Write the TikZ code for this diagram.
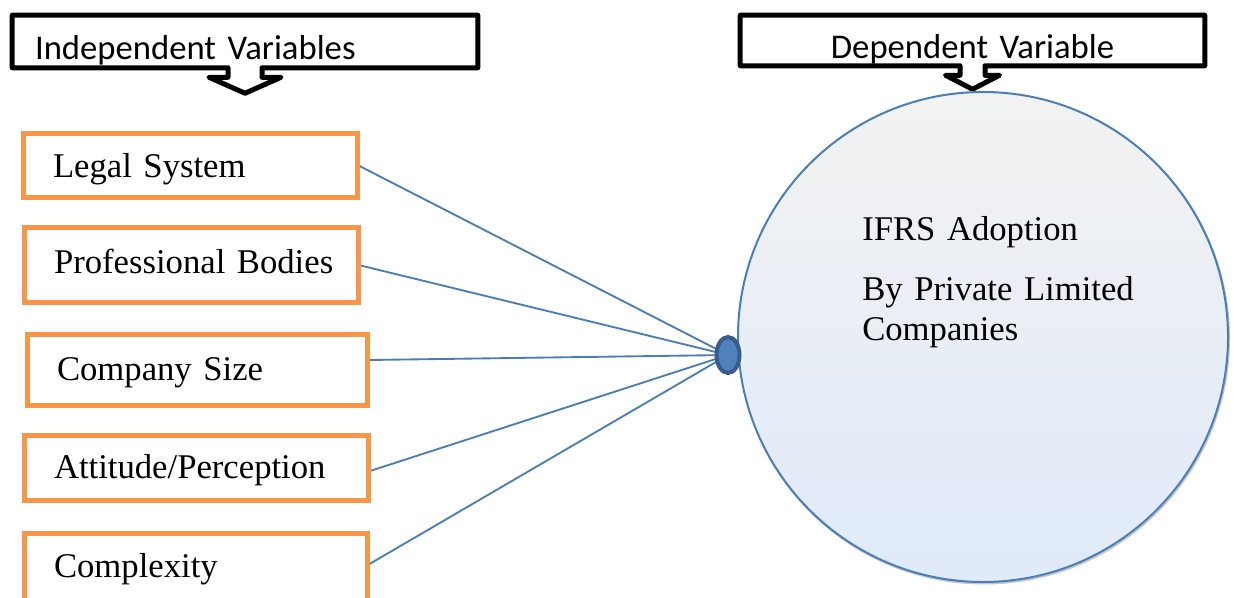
\documentclass[tikz,border=0pt]{standalone}
\usepackage{fontspec}
\setmainfont{Liberation Serif}
\newfontfamily\calibri{Carlito}
\usetikzlibrary{shapes.geometric, backgrounds, positioning}
\definecolor{boxorange}{HTML}{F79646}
\definecolor{linkblue}{HTML}{4A7EBB}
\definecolor{hubfill}{HTML}{4F81BD}
\definecolor{hubline}{HTML}{385D8A}
\definecolor{circtop}{HTML}{F2F2F2}
\definecolor{circbottom}{HTML}{E0EAF9}
\tikzset{factor/.style = {rectangle, draw = boxorange, line width = 3.75pt,
                          inner xsep = 0pt, inner ysep = 0pt, align = left,
                          text height = 22pt, text depth = 5pt,
                          execute at begin node = \hspace*{22.5pt},
                          font = \fontsize{26}{30}\selectfont},
         header/.style = {rectangle, inner xsep = 0pt, inner ysep = 0pt,
                          text height = 31.5pt, text depth = 3.8pt,
                          font = \calibri\fontsize{26}{30}\selectfont},
         callout/.style = {draw, line width = 3.75pt, line join = round},
         link/.style = {draw = linkblue, line width = 1.4pt}}

\begin{document}
\begin{tikzpicture}[x = 0.75pt, y = -0.75pt]
        \clip (0,0) rectangle (1234,598);

        % headers
        \node[header, text width = 348.75pt, minimum height = 39pt, align = left,
              execute at begin node = \hspace*{16.9pt}]
                                        (indep) at (245,41.5)   {Independent Variables};
        \node[header, text width = 348pt, minimum height = 37.5pt, align = center]
                                        (dep)   at (972.5,40.5) {Dependent Variable};

        \draw[callout] ([xshift = -12.75pt]indep.south) -- (indep.south west) -- (indep.north west)
              -- (indep.north east) -- (indep.south east) -- ([xshift = 12.75pt]indep.south)
              -- ++(0,9.5) -- ++(19,0) -- ++(-36,16) -- ++(-36,-16) -- ++(19,0) -- cycle;
        \draw[callout] ([xshift = -9.375pt]dep.south) -- (dep.south west) -- (dep.north west)
              -- (dep.north east) -- (dep.south east) -- ([xshift = 9.375pt]dep.south)
              -- ++(0,9.5) -- ++(14.5,0) -- ++(-27,14) -- ++(-27,-14) -- ++(14.5,0) -- cycle;

        % independent variables
        \node[factor, text width = 250.5pt, minimum height = 48pt]    (lsys)  at (190,166)   {Legal System};
        \node[factor, text width = 250.5pt, minimum height = 56.25pt,
              text height = 17pt]                                     (pbod)  at (191,265.5) {Professional Bodies};
        \node[factor, text width = 255pt,   minimum height = 52.5pt,
              text height = 20pt]                                     (csize) at (197,370)   {Company Size};
        \node[factor, text width = 258pt,   minimum height = 48.75pt] (atti)  at (196,467.5) {Attitude/Perception};
        \node[factor, text width = 257.25pt, minimum height = 54pt,
              text height = 18pt]                                     (cplx)  at (195.5,569) {Complexity};

        % dependent variable
        \draw[gray!45, line width = 1.5pt] (984,338.5) circle [radius = 245];
        \node[circle, draw = linkblue, line width = 1.5pt, minimum size = 367.5pt, inner sep = 0pt,
              top color = circtop, bottom color = circbottom]
                                        (ifrs) at (983,337) {};
        \node[anchor = base west, inner sep = 0pt, text width = 230pt, align = left,
              font = \fontsize{26}{30}\selectfont]
                                        (ifrstxt) at (862,241)
              {IFRS Adoption\\[15pt] By Private Limited\\ Companies};

        \node[ellipse, draw = hubline, fill = hubfill, line width = 3pt, inner sep = 0pt,
              minimum width = 17.25pt, minimum height = 27pt]
                                        (hub) at (728,355) {};

        \begin{scope}[on background layer]
          \path[link] (lsys.east) -- (hub.center);
          \path[link] (pbod.east) -- (hub.center);
          \path[link] ([yshift = 7.5pt]csize.east) -- (hub.center);
          \path[link] ([yshift = -2.5pt]atti.east) -- (hub.center);
          \path[link] ([yshift = 3.75pt]cplx.east) -- (hub.center);
        \end{scope}
\end{tikzpicture}
\end{document}
